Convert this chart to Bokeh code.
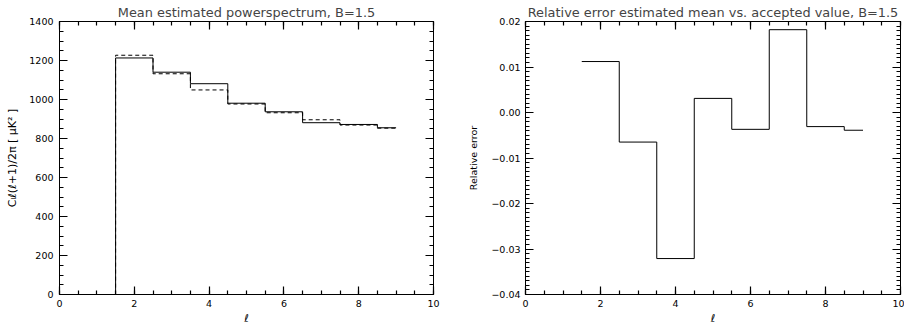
from bokeh.plotting import figure
from bokeh.layouts import row
from bokeh.models import Range1d, LinearAxis, SingleIntervalTicker, CustomJSTickFormatter
from bokeh.embed import file_html
from bokeh.resources import INLINE

# ---- data ----
ell = [0, 1, 2, 3, 4, 5, 6, 7, 8, 9]
power_estimated = [0, 0, 1213, 1140, 1081, 981, 937, 881, 872, 855]
power_accepted = [0, 0, 1227, 1132, 1049, 977, 932, 896, 869, 853]

ell_err = [2, 3, 4, 5, 6, 7, 8, 9]
rel_error = [0.0112, -0.0065, -0.0321, 0.0031, -0.0037, 0.0182, -0.0031, -0.0039]

x_ticks_interval = 2
title_left = "Mean estimated powerspectrum, B=1.5"
title_right = "Relative error estimated mean vs. accepted value, B=1.5"
ylabel_left = "C\u2097\u2113(\u2113+1)/2\u03c0 [ \u03bcK\u00b2 ]"
ylabel_right = "Relative error"
xlabel = "\u2113"

FONT = "DejaVu Sans"


def style_axis(ax, major_int, n_minor, labels=True, fmt=None):
    ax.ticker = SingleIntervalTicker(interval=major_int, num_minor_ticks=n_minor)
    ax.major_tick_in = 8
    ax.major_tick_out = 0
    ax.minor_tick_in = 4
    ax.minor_tick_out = 0
    ax.major_tick_line_width = 1.2
    ax.minor_tick_line_width = 1.2
    ax.axis_line_color = "black"
    ax.major_tick_line_color = "black"
    ax.minor_tick_line_color = "black"
    ax.major_label_text_font = FONT
    ax.major_label_text_color = "black"
    ax.major_label_text_font_size = "9.5px"
    ax.axis_label_text_font = FONT
    ax.axis_label_text_font_style = "normal"
    ax.axis_label_text_color = "black"
    if fmt is not None:
        ax.formatter = fmt
    if not labels:
        ax.formatter = CustomJSTickFormatter(code="return '';")
        ax.major_label_standoff = 0


def make_fig(title, ylabel, yrange, y_int, y_minor, mbl, mbr, ylab_size, ylab_standoff, fmt=None):
    p = figure(width=452, height=327, output_backend="svg", toolbar_location=None,
               x_range=Range1d(0, 10), y_range=Range1d(*yrange),
               min_border_left=mbl, min_border_right=mbr, min_border_top=20, min_border_bottom=32)
    p.grid.visible = False
    p.outline_line_color = "black"
    p.title.text = title
    p.title.text_font = FONT
    p.title.text_font_size = "12.9px"
    p.title.text_font_style = "normal"
    p.title.align = "center"
    p.title.standoff = 4

    xa = p.xaxis[0]
    style_axis(xa, x_ticks_interval, 4)
    xa.axis_label = xlabel
    xa.axis_label_text_font_size = "11px"
    xa.axis_label_text_font_style = "italic"
    xa.major_label_standoff = 5
    xa.axis_label_standoff = 2

    ya = p.yaxis[0]
    style_axis(ya, y_int, y_minor, fmt=fmt)
    ya.axis_label = ylabel
    ya.axis_label_text_font_size = ylab_size
    ya.major_label_standoff = 6
    ya.axis_label_standoff = ylab_standoff

    top = LinearAxis()
    style_axis(top, x_ticks_interval, 4, labels=False)
    p.add_layout(top, "above")
    right = LinearAxis()
    style_axis(right, y_int, y_minor, labels=False)
    p.add_layout(right, "right")
    return p


p1 = make_fig(title_left, ylabel_left, (0, 1400), 200, 4, 59, 19, "11px", 7)
p1.step(ell, power_estimated, mode="center", line_color="black", line_width=1)
p1.step(ell, power_accepted, mode="center", line_color="black", line_width=1, line_dash="4 3")

fmt = CustomJSTickFormatter(code="""
if (Math.abs(tick) < 1e-9) { return '0.00'; }
return tick.toFixed(2).replace('-', '\\u2212');
""")
p2 = make_fig(title_right, ylabel_right, (-0.04, 0.02), 0.01, 10, 73, 4, "9.5px", 9, fmt=fmt)
p2.yaxis[0].major_label_standoff = 5

# step edges for the relative error: bins centred on ell, last bin truncated at ell_max
err_x = [e - 0.5 for e in ell_err] + [ell_err[-1]]
err_y = rel_error + [rel_error[-1]]
p2.step(err_x, err_y, mode="after", line_color="black", line_width=1)

layout = row(p1, p2)
open("out.html", "w").write(file_html(layout, INLINE))
